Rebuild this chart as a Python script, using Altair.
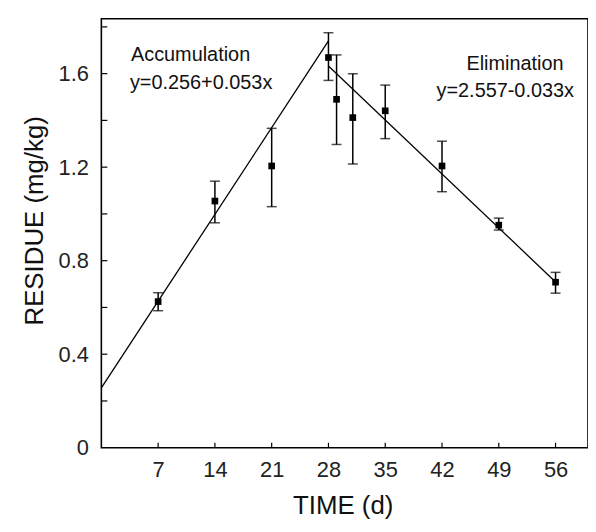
import altair as alt
import pandas as pd

# ---- data ----
days = [7, 14, 21, 28, 29, 31, 35, 42, 49, 56]
residue = [0.625, 1.055, 1.205, 1.669, 1.49, 1.412, 1.441, 1.205, 0.952, 0.708]
upper = [0.663, 1.14, 1.366, 1.775, 1.68, 1.599, 1.551, 1.311, 0.982, 0.75]
lower = [0.586, 0.962, 1.031, 1.571, 1.297, 1.213, 1.322, 1.095, 0.931, 0.661]

acc_days = [0, 28]
acc_vals = [0.256, 1.740]
elim_days = [28, 56]
elim_vals = [1.633, 0.709]

x_ticks = [7, 14, 21, 28, 35, 42, 49, 56]
y_labels = [0, 0.4, 0.8, 1.2, 1.6]
y_ticks = [0.2, 0.4, 0.6, 0.8, 1.0, 1.2, 1.4, 1.6, 1.8]

note_text = ["Accumulation", "y=0.256+0.053x", "Elimination", "y=2.557-0.033x"]
note_x = [11.0, 12.3, 51.0, 49.8]
note_y = [1.68, 1.558, 1.643, 1.524]

W, H = 490, 432
FONT = "Liberation Sans"

pts = pd.DataFrame({"day": days, "res": residue, "hi": upper, "lo": lower})
lines = pd.DataFrame({
    "day": acc_days + elim_days,
    "res": acc_vals + elim_vals,
    "phase": ["acc"] * 2 + ["elim"] * 2,
})
notes = pd.DataFrame({"day": note_x, "res": note_y, "t": note_text})
xt = pd.DataFrame({"day": x_ticks})
yt = pd.DataFrame({"res": y_ticks})

xs = alt.Scale(domain=[0, 60], nice=False, zero=False)
ys = alt.Scale(domain=[0, 1.835], nice=False, zero=False)

xaxis = alt.Axis(values=x_ticks, grid=False, ticks=False, domain=False,
                 labelFont=FONT, labelFontSize=22, labelColor="#222",
                 labelPadding=12, titleFont=FONT,
                 titleFontSize=26, titleFontWeight="normal", titleColor="#111",
                 titleX=243, titleY=58, titleBaseline="middle")
yaxis = alt.Axis(values=y_labels, format="~g", grid=False, ticks=False,
                 domain=False, labelFont=FONT, labelFontSize=22,
                 labelColor="#222", labelPadding=13,
                 titleFont=FONT, titleFontSize=26, titleFontWeight="normal",
                 titleColor="#111", titleX=-67, titleY=203,
                 titleBaseline="middle", titleAlign="center", titleAngle=270)


def X(field="day"):
    return alt.X(f"{field}:Q", scale=xs, axis=xaxis, title="TIME (d)")


def Y(field="res"):
    return alt.Y(f"{field}:Q", scale=ys, axis=yaxis, title="RESIDUE (mg/kg)")


base_lines = alt.Chart(lines).mark_line(color="black", strokeWidth=1.3).encode(
    x=X(), y=Y(), detail="phase:N",
)

bars = alt.Chart(pts).mark_rule(color="black", strokeWidth=1.5).encode(
    x=X(), y=Y("lo"), y2="hi:Q",
)
cap_hi = alt.Chart(pts).mark_tick(color="black", orient="horizontal",
                                  size=10, thickness=1.5).encode(
    x=X(), y=Y("hi"),
)
cap_lo = alt.Chart(pts).mark_tick(color="black", orient="horizontal",
                                  size=10, thickness=1.5).encode(
    x=X(), y=Y("lo"),
)
squares = alt.Chart(pts).mark_square(color="black", opacity=1, size=45).encode(
    x=X(), y=Y(),
)

xtick_marks = alt.Chart(xt).mark_rule(color="black", strokeWidth=1.2).encode(
    x=X(), y=alt.value(H), y2=alt.value(H - 5),
)
ytick_marks = alt.Chart(yt).mark_rule(color="black", strokeWidth=1.2).encode(
    y=Y(), x=alt.value(0), x2=alt.value(6),
)

texts = alt.Chart(notes).mark_text(font=FONT, fontSize=20, color="#111",
                                   align="center", baseline="middle").encode(
    x=X(), y=Y(), text="t:N",
)

chart = alt.layer(
    base_lines, bars, cap_hi, cap_lo, squares, xtick_marks, ytick_marks, texts
).properties(
    width=W, height=H,
    autosize=alt.AutoSizeParams(type="none"),
    padding={"left": 94, "top": 9, "right": 0, "bottom": 70},
    background="white",
).configure_view(stroke="black", strokeWidth=1.6)

chart.save("out.html", embed_options={"renderer": "svg", "actions": False})
